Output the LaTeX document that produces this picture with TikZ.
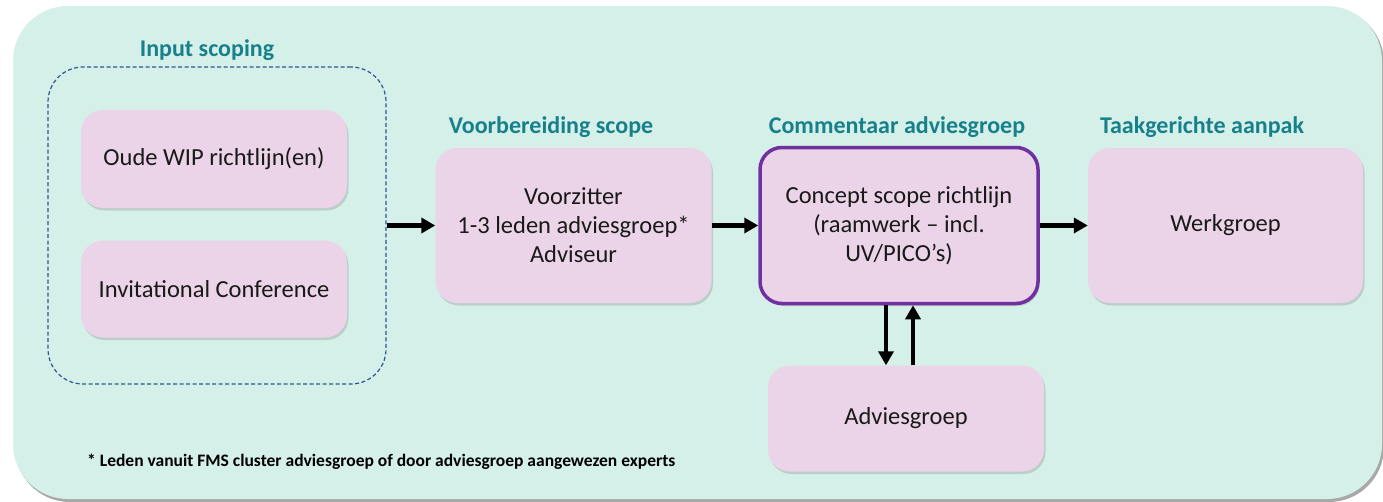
\documentclass[tikz,border=0pt]{standalone}
\usepackage{fontspec}
\setmainfont{Carlito}
\usetikzlibrary{arrows.meta,shadows}
\definecolor{bgmint}{HTML}{D5F0E9}
\definecolor{boxpink}{HTML}{EBD4E8}
\definecolor{titleteal}{HTML}{17808A}
\definecolor{dashblue}{HTML}{2F5597}
\definecolor{borderpurple}{HTML}{7030A0}
\definecolor{frameshadow}{HTML}{A8A8A8}
\begin{document}
\begin{tikzpicture}[x=1pt,y=-1pt,
  stepbox/.style={rectangle, rounded corners=22pt, fill=boxpink, inner sep=0pt, align=center,
    font=\fontsize{24.5}{29}\selectfont, text=black!90,
    drop shadow={opacity=0.3, shadow xshift=1.5pt, shadow yshift=-2.5pt}},
  steptitle/.style={font=\fontsize{24}{28}\selectfont\bfseries, text=titleteal},
  groupbox/.style={rectangle, rounded corners=35pt, draw=dashblue, line width=1.2pt,
    dash pattern=on 4pt off 2.5pt, inner sep=0pt},
  flow/.style={line width=4.2pt, -{Triangle[length=14pt,width=15pt]}}]
\path[use as bounding box] (0,0) rectangle (1383,501);
% background panel
\fill[frameshadow, rounded corners=55pt] (15,8) rectangle (1384,502);
\fill[bgmint, rounded corners=55pt] (13,6) rectangle (1382,499);

% input scoping group
\node[groupbox, minimum width=338pt, minimum height=317pt] (scope) at (217,225.5) {};
\node[steptitle] (t1) at (207,50) {Input scoping};
\node[stepbox, minimum width=266pt, minimum height=98pt] (oude) at (214,159) {Oude WIP richtlijn(en)};
\node[stepbox, minimum width=266pt, minimum height=97pt] (inv) at (214,289) {Invitational Conference};

% voorbereiding
\node[steptitle] (t2) at (551,127) {Voorbereiding scope};
\node[stepbox, minimum width=276pt, minimum height=155pt] (prep) at (573.5,225.5)
  {Voorzitter\\1-3 leden adviesgroep*\\Adviseur};

% commentaar
\node[steptitle] (t3) at (897,127) {Commentaar adviesgroep};
\node[stepbox, draw=borderpurple, line width=3.5pt, minimum width=278pt, minimum height=156pt] (concept) at (899,225.5)
  {Concept scope richtlijn\\(raamwerk – incl.\\UV/PICO’s)};

% taakgericht
\node[steptitle] (t4) at (1202,127) {Taakgerichte aanpak};
\node[stepbox, minimum width=275pt, minimum height=155pt] (werk) at (1225.5,225.5) {Werkgroep};

% adviesgroep
\node[stepbox, minimum width=276pt, minimum height=106pt] (advies) at (906,418.5) {Adviesgroep};

% footnote
\node[anchor=west, inner sep=0pt, font=\fontsize{17.5}{20}\selectfont\bfseries, text=black] (note) at (87,462)
  {* Leden vanuit FMS cluster adviesgroep of door adviesgroep aangewezen experts};

% connectors
\draw[flow] (scope.east) -- (prep.west);
\draw[flow] (prep.east) -- (concept.west);
\draw[flow] (concept.east) -- (werk.west);
\coordinate (xd) at (886,0);
\coordinate (xu) at (913,0);
\draw[flow] (concept.south -| xd) -- (advies.north -| xd);
\draw[flow] (advies.north -| xu) -- (concept.south -| xu);
\end{tikzpicture}
\end{document}
